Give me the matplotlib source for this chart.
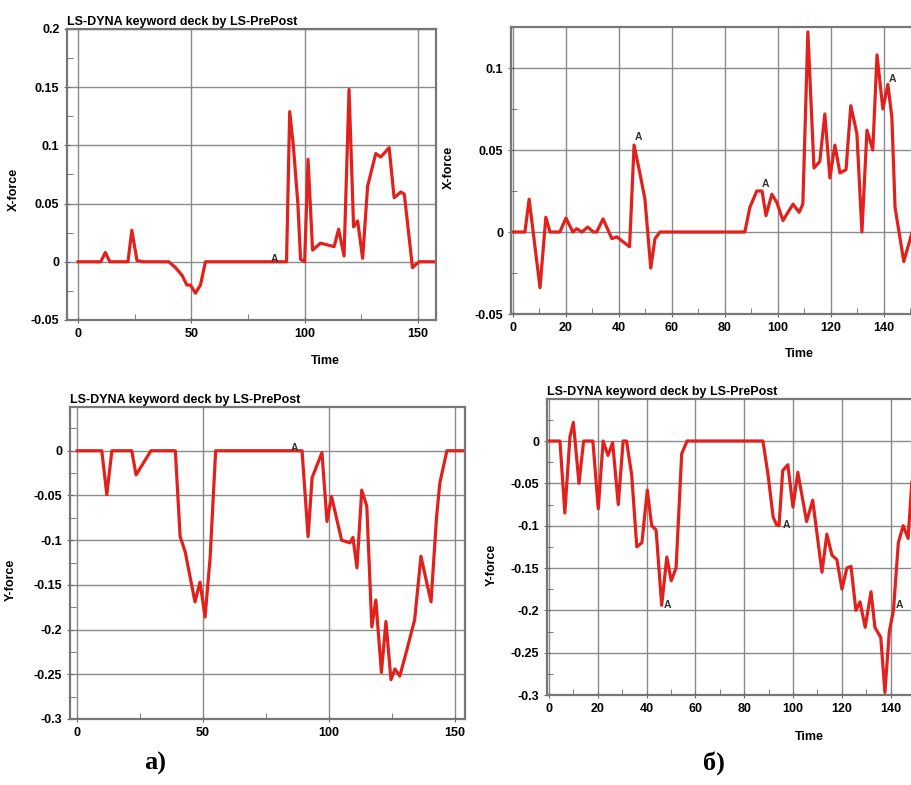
import matplotlib
matplotlib.use("Agg")
import matplotlib.pyplot as plt
from matplotlib.ticker import MultipleLocator, FuncFormatter

# DATA
# a) upper: X-force
t_ax = [0, 10, 12, 14, 22, 23.7, 26, 29, 40, 43, 46, 48, 49.6, 51.8, 54, 56.2,
        92, 93.4, 95, 97, 98.2, 100, 101.5, 103.5, 107, 113, 115, 117.4,
        119.6, 121.6, 123.4, 125.6, 127.8, 131.4, 133.6, 137.3, 139.5, 142.5,
        144, 147.6, 150.5, 158]
fx_a = [0, 0, 0.008, 0, 0, 0.027, 0.001, 0, 0, -0.005, -0.012, -0.02, -0.02,
        -0.027, -0.02, 0, 0, 0.129, 0.1, 0.05, 0.002, 0, 0.088, 0.01, 0.016,
        0.013, 0.028, 0.005, 0.148, 0.03, 0.035, 0.003, 0.065, 0.093, 0.09,
        0.098, 0.055, 0.06, 0.058, -0.005, 0, 0]

# a) lower: Y-force
t_ay = [0, 9.8, 11.8, 13.8, 21.7, 23.4, 29.3, 39, 40.9, 42.9, 46.8, 48.8, 50.8,
        52.8, 55, 89.3, 91.7, 93.3, 97.2, 99.2, 101, 105, 108.3, 109.5, 111.1,
        113, 115, 117, 118.6, 120.8, 122.6, 124.6, 126.2, 128.1, 130.6, 134,
        136.5, 140.5, 142.7, 144, 146.8, 154]
fy_a = [0, 0, -0.049, 0, 0, -0.027, 0, 0, -0.096, -0.113, -0.169, -0.147,
        -0.186, -0.12, 0, 0, -0.096, -0.03, -0.002, -0.079, -0.051, -0.1,
        -0.103, -0.097, -0.131, -0.044, -0.062, -0.197, -0.167, -0.248, -0.191,
        -0.256, -0.244, -0.252, -0.226, -0.189, -0.118, -0.169, -0.074, -0.036,
        0, 0]

# б) upper: X-force
t_bx = [0, 4.5, 6.1, 10.2, 12.4, 14, 17.7, 20, 22.6, 24, 26, 28.2, 30.3, 31.6,
        34, 37.3, 39.2, 41.6, 44, 45.7, 48, 49.8, 52, 53.6, 55.5, 87.5, 89.4,
        92, 94, 95.5, 97.7, 99.6, 101.9, 105.7, 108, 109.4, 111.3, 113.6,
        115.8, 117.7, 119.6, 121.5, 123.4, 125.7, 127.5, 129.8, 131.7, 133.6,
        135.8, 137.4, 139.6, 141.5, 143, 144.2, 145.7, 147.5, 149.8, 151]
fx_b = [0, 0, 0.02, -0.034, 0.009, 0, 0, 0.0085, 0, 0.002, 0, 0.003, 0, 0,
        0.008, -0.004, -0.003, -0.006, -0.009, 0.053, 0.035, 0.02, -0.022,
        -0.004, 0, 0, 0.015, 0.025, 0.025, 0.01, 0.023, 0.018, 0.007, 0.017,
        0.012, 0.017, 0.122, 0.039, 0.043, 0.072, 0.033, 0.053, 0.036, 0.038,
        0.077, 0.06, 0.0, 0.062, 0.05, 0.108, 0.075, 0.09, 0.07, 0.015, 0.0,
        -0.018, -0.005, 0.002]

# б) lower: Y-force
t_by = [0, 4.5, 6.5, 8.6, 10, 12.3, 14.2, 18, 20.2, 22.2, 24.2, 26.1, 28.4,
        30.4, 31.8, 33.9, 36, 38.1, 40.3, 42.1, 43.9, 46.2, 48.3, 50.1, 52.1,
        54.4, 56.6, 87.7, 89.8, 91.9, 93.3, 94.3, 95.8, 97.9, 100, 102, 105.6,
        108.1, 111.9, 113.9, 116, 118, 120.1, 122.1, 123.8, 125.8, 127.5,
        129.6, 132, 133.6, 136, 137.7, 139.5, 141.2, 143.2, 145.2, 147.2,
        148.7, 150]
fy_b = [0, 0, -0.085, 0.005, 0.022, -0.05, 0, 0, -0.08, 0, -0.017, -0.002,
        -0.075, 0, 0, -0.04, -0.125, -0.12, -0.058, -0.1, -0.105, -0.194,
        -0.137, -0.165, -0.15, -0.015, 0, 0, -0.04, -0.09, -0.099, -0.1,
        -0.035, -0.028, -0.078, -0.037, -0.095, -0.07, -0.155, -0.11, -0.135,
        -0.14, -0.175, -0.15, -0.148, -0.2, -0.19, -0.22, -0.178, -0.22,
        -0.232, -0.297, -0.225, -0.2, -0.12, -0.1, -0.115, -0.05, -0.02]

# "A" markers
marks_ax = [(85, -0.002)]
marks_ay = [(85, -0.002)]
marks_bx = [(46, 0.055), (94, 0.026), (142, 0.09)]
marks_by = [(47, -0.2), (96, -0.105), (142, -0.2)]

title = "LS-DYNA keyword deck by LS-PrePost"
line_color = "#e0211c"
plt.rcParams['font.family'] = ['Liberation Sans', 'DejaVu Sans']

fig = plt.figure(figsize=(9.12, 7.85), dpi=100)
fig.patch.set_facecolor("white")

fmt = FuncFormatter(lambda v, p: "{:g}".format(round(v, 4)))


def setup(ax, xlim, ylim, xmaj, ylabel, ylab_pos, xlabel=None, xlab_x=0.71):
    ax.set_xlim(*xlim)
    ax.set_ylim(*ylim)
    ax.xaxis.set_major_locator(MultipleLocator(xmaj))
    ax.xaxis.set_minor_locator(MultipleLocator(xmaj / 2))
    ax.yaxis.set_major_locator(MultipleLocator(0.05))
    ax.yaxis.set_minor_locator(MultipleLocator(0.025))
    ax.yaxis.set_major_formatter(fmt)
    ax.xaxis.set_major_formatter(fmt)
    ax.grid(True, which='major', color='#8a8a8a', linewidth=1.0)
    ax.set_axisbelow(True)
    ax.tick_params(which='major', direction='inout', length=5, color='#666666',
                   labelsize=9, pad=3)
    ax.tick_params(which='minor', direction='in', length=4, color='#666666')
    ax.tick_params(top=False, right=False)
    for lab in ax.get_xticklabels() + ax.get_yticklabels():
        lab.set_fontweight('bold')
    for s in ax.spines.values():
        s.set_color('#777777')
        s.set_linewidth(1.6)
    ax.set_ylabel(ylabel, fontsize=9, fontweight='bold')
    ax.yaxis.set_label_coords(*ylab_pos)
    if xlabel:
        ax.set_xlabel(xlabel, fontsize=9, fontweight='bold')
        ax.xaxis.set_label_coords(xlab_x, -0.12)


def marks(ax, pts):
    for x, y in pts:
        ax.text(x, y, "A", fontsize=7.5, color='#333333', ha='left', va='bottom',
                fontweight='bold')


# a) X-force
ax1 = fig.add_axes([0.0735, 0.5924, 0.4046, 0.3707])
ax1.plot(t_ax, fx_a, color=line_color, linewidth=2.3)
setup(ax1, (-4.9, 158), (-0.05, 0.2), 50, "X-force", (-0.127, 0.45), "Time", 0.70)
marks(ax1, marks_ax)
ax1.set_title(title, fontsize=9, fontweight='bold', loc='left', pad=3)

# б) X-force (cropped on the right)
ax2 = fig.add_axes([0.5603, 0.6, 0.4397, 0.3656])
ax2.plot(t_bx, fx_b, color=line_color, linewidth=2.3)
setup(ax2, (-0.75, 150.6), (-0.05, 0.125), 20, "X-force", (-0.14, 0.51), "Time", 0.72)
ax2.spines['right'].set_visible(False)
marks(ax2, marks_bx)

# a) Y-force
ax3 = fig.add_axes([0.0768, 0.0841, 0.4331, 0.3975])
ax3.plot(t_ay, fy_a, color=line_color, linewidth=2.3)
setup(ax3, (-2.8, 154), (-0.3, 0.049), 50, "Y-force", (-0.134, 0.445))
marks(ax3, marks_ay)
ax3.set_title(title, fontsize=9, fontweight='bold', loc='left', pad=3)

# б) Y-force (cropped on the right)
ax4 = fig.add_axes([0.5998, 0.1146, 0.4002, 0.3771])
ax4.plot(t_by, fy_b, color=line_color, linewidth=2.3)
setup(ax4, (-0.8, 148.8), (-0.3, 0.0496), 20, "Y-force", (-0.134, 0.44), "Time", 0.72)
ax4.spines['right'].set_visible(False)
marks(ax4, marks_by)
ax4.set_title(title, fontsize=9, fontweight='bold', loc='left', pad=3)

fig.text(155 / 912, 1 - 763 / 785, "а)", fontsize=19, fontweight='bold',
         family=['Liberation Serif', 'DejaVu Serif'], ha='center', va='center')
fig.text(714 / 912, 1 - 763 / 785, "б)", fontsize=19, fontweight='bold',
         family=['Liberation Serif', 'DejaVu Serif'], ha='center', va='center')

fig.savefig("out.png", dpi=100, facecolor="white")
